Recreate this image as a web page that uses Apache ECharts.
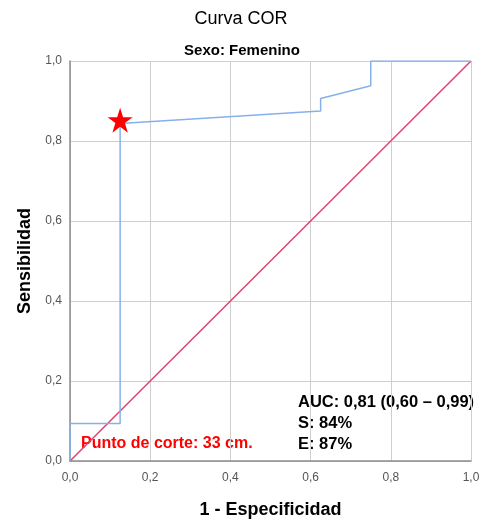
<!DOCTYPE html>
<html><head><meta charset="utf-8">
<script src="https://cdn.jsdelivr.net/npm/echarts@6/dist/echarts.min.js"></script>
<style>html,body{margin:0;padding:0;background:#fff}#c{width:487px;height:519px}</style>
</head><body><div id="c"></div>
<script>
const rocX = [0, 0, 0.125, 0.125, 0.625, 0.625, 0.75, 0.75, 1];
const rocY = [0, 0.094, 0.094, 0.844, 0.875, 0.906, 0.938, 1, 1];
const refX = [0, 1];
const refY = [0, 1];
const cutPoint = [0.125, 0.852];
const tickValues = [0, 0.2, 0.4, 0.6, 0.8, 1.0];
const titleText = 'Curva COR';
const subtitleText = 'Sexo: Femenino';
const xName = '1 - Especificidad';
const yName = 'Sensibilidad';
const cutText = 'Punto de corte: 33 cm.';
const statsText = ['AUC: 0,81 (0,60 – 0,99)', 'S: 84%', 'E: 87%'];

const FONT = '"Liberation Sans", Arial, sans-serif';
const fmt = v => v.toFixed(1).replace('.', ',');
const axisCommon = {
  min: 0, max: 1, interval: 0.2,
  axisLine: {show: true, lineStyle: {color: '#8c8c8c', width: 1.5}},
  axisTick: {show: false},
  splitLine: {show: true, lineStyle: {color: '#cfcfcf', width: 1}},
  axisLabel: {color: '#555', fontSize: 12, fontFamily: FONT, formatter: fmt},
  nameLocation: 'middle',
  nameTextStyle: {color: '#000', fontSize: 18, fontWeight: 'bold', fontFamily: FONT}
};
const chart = echarts.init(document.getElementById('c'), null, {renderer: 'canvas'});
chart.setOption({
  animation: false,
  backgroundColor: '#fff',
  grid: {left: 70, right: 16, top: 61, bottom: 58, containLabel: false, outerBoundsMode: 'none'},
  title: [
    {text: titleText, left: 236, top: 5, textAlign: 'center',
     textStyle: {fontSize: 18, fontWeight: 'normal', color: '#000', fontFamily: FONT}},
    {text: subtitleText, left: 237, top: 38, textAlign: 'center',
     textStyle: {fontSize: 15, fontWeight: 'bold', color: '#000', fontFamily: FONT}}
  ],
  xAxis: Object.assign({}, axisCommon, {type: 'value', name: xName, nameGap: 40,
    axisLabel: Object.assign({}, axisCommon.axisLabel, {margin: 11})}),
  yAxis: Object.assign({}, axisCommon, {type: 'value', name: yName, nameGap: 34,
    axisLabel: Object.assign({}, axisCommon.axisLabel, {margin: 8})}),
  series: [
    {type: 'line', data: refX.map((x, i) => [x, refY[i]]), showSymbol: false,
     lineStyle: {color: '#e0426f', width: 1.5}, z: 3},
    {type: 'line', data: rocX.map((x, i) => [x, rocY[i]]), showSymbol: false,
     lineStyle: {color: '#86b0ec', width: 1.5}, z: 4},
    {type: 'scatter', data: [cutPoint], symbol: 'path://M50,0 L61.8,36.2 L100,36.2 L69.1,58.6 L80.9,95.1 L50,72.6 L19.1,95.1 L30.9,58.6 L0,36.2 L38.2,36.2 Z',
     symbolSize: 25, itemStyle: {color: '#ff0000', opacity: 1}, z: 5}
  ],
  graphic: [
    {type: 'text', left: 81, top: 436, style: {text: cutText, fill: '#ff0000',
      font: 'bold 16px ' + FONT}},
    {type: 'text', left: 298, top: 392, style: {text: statsText.join('\n'), fill: '#000',
      font: 'bold 16.5px ' + FONT, lineHeight: 21}}
  ]
});
</script></body></html>
